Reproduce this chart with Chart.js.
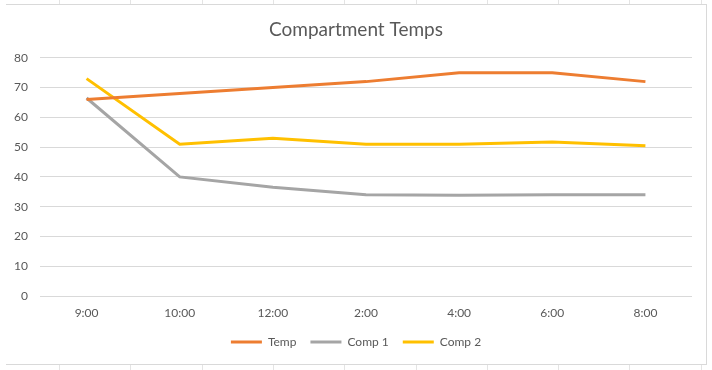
<!DOCTYPE html>
<html>
<head>
<meta charset="utf-8">
<script src="https://cdn.jsdelivr.net/npm/chart.js@4.4.1/dist/chart.umd.min.js"></script>
<style>
  html, body { margin: 0; padding: 0; background: #fff; }
  #hoja { position: relative; width: 712px; height: 370px; overflow: hidden; }
  /* líneas de celdas de la hoja, arriba y abajo del gráfico */
  .celdas { position: absolute; left: 0; width: 712px; height: 5px;
    background: repeating-linear-gradient(to right, transparent 0 59px, #e4e4e4 59px 60px, transparent 60px 71.3px); }
  #marco { position: absolute; left: 6px; top: 4px; width: 700px; height: 359px;
    border-top: 1px solid #d9d9d9; border-right: 1px solid #d9d9d9; border-bottom: 1px solid #d9d9d9; }
  #contenedor { position: absolute; left: 0; top: 0; width: 712px; height: 370px; }
</style>
</head>
<body>
<div id="hoja">
  <div class="celdas" style="top:0"></div>
  <div class="celdas" style="top:365px"></div>
  <div id="marco"></div>
  <div id="contenedor"><canvas id="grafica"></canvas></div>
</div>
<script>
// Datos
const horas = ['9:00', '10:00', '12:00', '2:00', '4:00', '6:00', '8:00'];
const temp  = [66, 68, 70, 72, 75, 75, 72];
const comp1 = [66.5, 40, 36.5, 34, 33.8, 34, 34];
const comp2 = [73, 51, 53, 51, 51, 51.7, 50.5];

const FUENTE = 'Lato, "Open Sans", sans-serif';
const GRIS_TEXTO = '#595959';

function serie(label, datos, color) {
  return {
    label: label,
    data: datos,
    borderColor: color,
    backgroundColor: color,
    borderWidth: 3,
    tension: 0,
    pointRadius: 0,
    fill: false
  };
}

new Chart(document.getElementById('grafica'), {
  type: 'line',
  data: {
    labels: horas,
    datasets: [
      serie('Temp', temp, '#ED7D31'),
      serie('Comp 1', comp1, '#A5A5A5'),
      serie('Comp 2', comp2, '#FFC000')
    ]
  },
  options: {
    responsive: true,
    maintainAspectRatio: false,
    animation: false,
    layout: { padding: { left: 0, right: 0, top: 0, bottom: 12 } },
    plugins: {
      title: {
        display: true,
        text: 'Compartment Temps',
        color: GRIS_TEXTO,
        font: { family: FUENTE, size: 19, weight: 'normal' },
        padding: { top: 18, bottom: 17 }
      },
      legend: {
        position: 'bottom',
        labels: {
          color: GRIS_TEXTO,
          font: { family: FUENTE, size: 12 },
          boxWidth: 31,
          boxHeight: 3,
          padding: 14,
          // muestra de leyenda como línea fina, sin borde alrededor
          generateLabels: function (chart) {
            return Chart.defaults.plugins.legend.labels.generateLabels(chart)
              .map(l => Object.assign(l, { lineWidth: 0 }));
          }
        }
      },
      tooltip: { enabled: false }
    },
    scales: {
      x: {
        offset: true,
        grid: { display: false, drawTicks: false },
        border: { display: false },
        ticks: { color: GRIS_TEXTO, font: { family: FUENTE, size: 12 }, padding: 10, maxRotation: 0 },
        afterFit: function (escala) { escala.height = 26; }
      },
      y: {
        min: 0,
        max: 80,
        grid: { color: '#D9D9D9', lineWidth: 1, drawTicks: false },
        border: { display: false },
        ticks: { stepSize: 10, color: GRIS_TEXTO, font: { family: FUENTE, size: 12 }, padding: 12 },
        afterFit: function (escala) { escala.width = 40; }
      },
      // eje vacío a la derecha: deja el margen y mantiene centrados título y leyenda
      margen: {
        position: 'right',
        grid: { display: false, drawTicks: false },
        border: { display: false },
        ticks: { display: false },
        afterFit: function (escala) { escala.width = 20; }
      }
    }
  }
});
</script>
</body>
</html>
